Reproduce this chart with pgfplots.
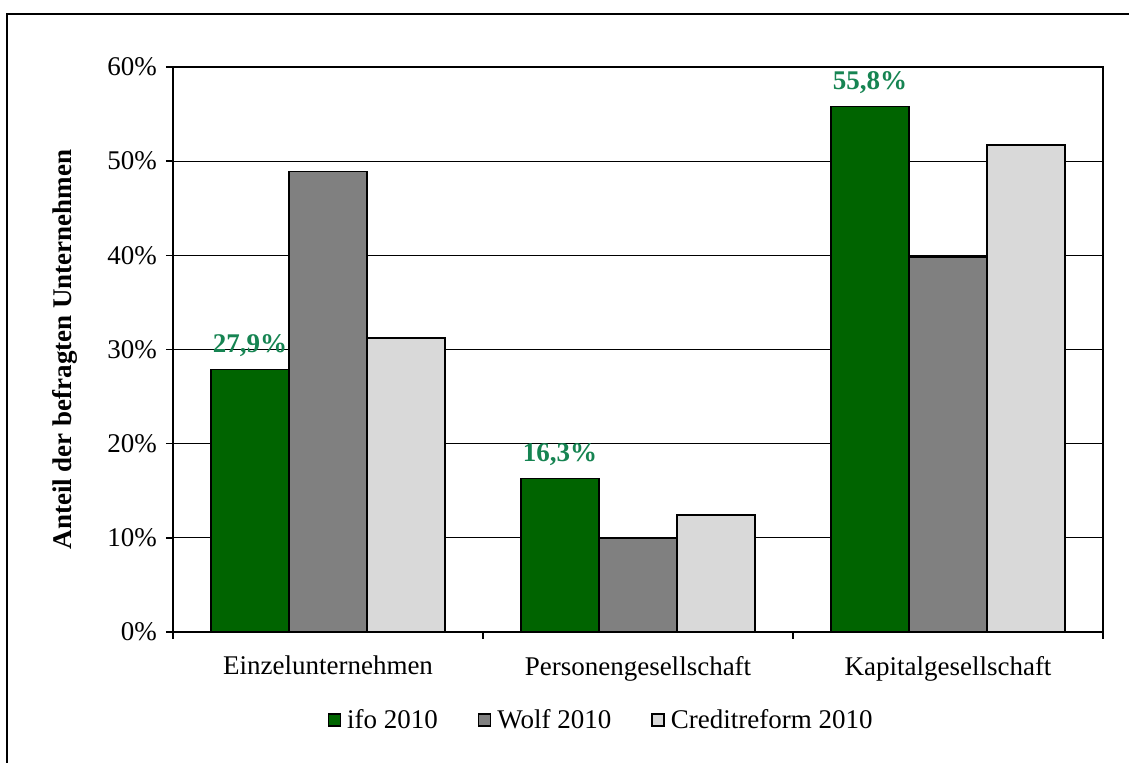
\documentclass[border=0pt]{standalone}
\usepackage{pgfplots}
\pgfplotsset{compat=1.18}
\usepackage{fontspec}
\setmainfont{Liberation Serif}
\definecolor{ifogreen}{RGB}{0,100,0}
\definecolor{wolfgrey}{RGB}{128,128,128}
\definecolor{crlight}{RGB}{217,217,217}
\definecolor{lblgreen}{RGB}{22,132,82}
\begin{document}
\begin{tikzpicture}
\useasboundingbox (-86.5pt,-65.5pt) rectangle (478pt,316pt);
\draw[line width=1pt] (-83pt,-70pt) -- (-83pt,309pt) -- (480pt,309pt);
\begin{axis}[
  scale only axis,
  width=465pt, height=282.5pt,
  font=\fontsize{13.5}{16}\selectfont,
  ybar=0pt, bar width=39pt,
  xmin=-0.5, xmax=2.5,
  ymin=0, ymax=60,
  ytick={0,10,...,60},
  yticklabel={\pgfmathprintnumber{\tick}\%},
  xtick={-0.5,0.5,1.5,2.5},
  xticklabels={},
  extra x ticks={0,1,2},
  extra x tick labels={Einzelunternehmen,Personengesellschaft,Kapitalgesellschaft},
  extra x tick style={major tick length=0pt, grid=none, xticklabel style={yshift=-8.5pt}},
  xtick pos=bottom, ytick pos=left,
  tick align=outside,
  major tick length=3.5pt,
  tick style={draw=black, line width=0.75pt},
  ymajorgrids,
  grid style={black, line width=0.6pt},
  axis line style={black, line width=0.9pt},
  /pgf/number format/assume math mode=true,
  yticklabel style={xshift=-1pt},
  ylabel={\bfseries Anteil der befragten Unternehmen},
  ylabel style={at={(axis description cs:-0.1161,0.5)}, anchor=center},
  legend columns=3,
  legend style={at={(axis description cs:0.4613,-0.1558)}, anchor=center, draw=none, fill=none,
    /tikz/every odd column/.append style={column sep=1pt},
    /tikz/every even column/.append style={column sep=18pt}},
  legend image code/.code={\draw[#1, draw=black, line width=0.75pt] (0pt,-3pt) rectangle (6pt,3pt);},
  every axis plot/.append style={draw=black, line width=0.75pt},
]
\addplot[fill=ifogreen,
  nodes near coords,
  nodes near coords style={text=lblgreen, font=\fontsize{13.5}{16}\selectfont\bfseries, anchor=base, inner sep=0pt, yshift=8.5pt,
    /pgf/number format/.cd, fixed, fixed zerofill, precision=1, use comma, assume math mode=true},
  nodes near coords={\pgfmathprintnumber{\pgfplotspointmeta}\%}]
  coordinates {(0,27.9) (1,16.3) (2,55.8)};
\addlegendentry{ifo 2010}
\addplot[fill=wolfgrey] coordinates {(0,48.9) (1,10.0) (2,39.8)};
\addlegendentry{Wolf 2010}
\addplot[fill=crlight] coordinates {(0,31.2) (1,12.4) (2,51.7)};
\addlegendentry{Creditreform 2010}
\end{axis}
\end{tikzpicture}
\end{document}
